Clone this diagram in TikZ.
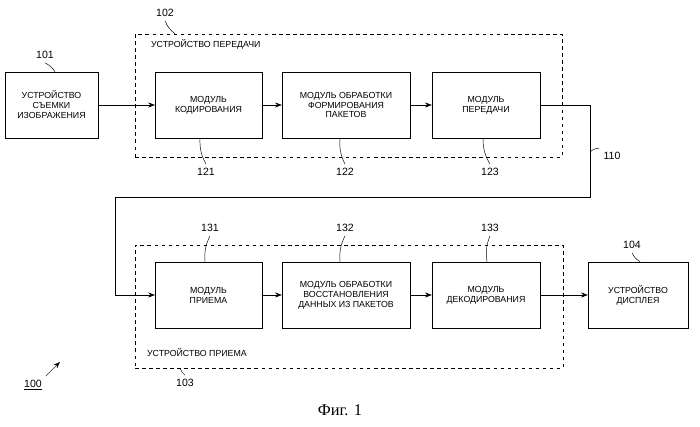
\documentclass[tikz,border=0pt]{standalone}
\usepackage{fontspec}
\setmainfont{Liberation Sans}
\newfontfamily\figfont{Liberation Serif}
\usetikzlibrary{arrows.meta}
\begin{document}
\begin{tikzpicture}[x=0.03cm,y=-0.03cm]
	\tikzstyle{block}=[draw=black, fill=white, minimum width=3.2cm, minimum height=1.98cm, align=center, font=\fontsize{7.5}{8.5}\selectfont, inner sep=1pt]
	\tikzstyle{frame}=[draw=black, dashed]
	\tikzstyle{flow}=[-{Stealth[length=2mm,width=1.5mm]}]
	\tikzstyle{tag}=[font=\fontsize{9}{10}\selectfont]
	\useasboundingbox (0,0) rectangle (700,427);
	% Frames
	\node[frame, minimum width=12.81cm, minimum height=3.69cm] (tx) at (348.5,95.5) {};
	\node[frame, minimum width=12.84cm, minimum height=3.69cm] (rx) at (349,306.5) {};
	\node[anchor=west, font=\fontsize{7.5}{8.5}\selectfont] (txlabel) at (147,44) {УСТРОЙСТВО ПЕРЕДАЧИ};
	\node[anchor=west, font=\fontsize{7.5}{8.5}\selectfont] (rxlabel) at (143,353) {УСТРОЙСТВО ПРИЕМА};
	% Blocks
	\node[block, minimum width=2.79cm] (camera) at (51.5,105) {УСТРОЙСТВО\\СЪЕМКИ\\ИЗОБРАЖЕНИЯ};
	\node[block] (encoder) at (208.5,105) {МОДУЛЬ\\КОДИРОВАНИЯ};
	\node[block, minimum width=3.84cm] (packer) at (346,105) {МОДУЛЬ ОБРАБОТКИ\\ФОРМИРОВАНИЯ\\ПАКЕТОВ};
	\node[block, minimum width=3.24cm] (sender) at (486,105) {МОДУЛЬ\\ПЕРЕДАЧИ};
	\node[block] (receiver) at (208.5,295) {МОДУЛЬ\\ПРИЕМА};
	\node[block, minimum width=3.84cm] (unpacker) at (346,295) {МОДУЛЬ ОБРАБОТКИ\\ВОССТАНОВЛЕНИЯ\\ДАННЫХ ИЗ ПАКЕТОВ};
	\node[block, minimum width=3.24cm] (decoder) at (486,295) {МОДУЛЬ\\ДЕКОДИРОВАНИЯ};
	\node[block, minimum width=3cm] (display) at (638,295) {УСТРОЙСТВО\\ДИСПЛЕЯ};
	% Connectors
	\draw[flow] (camera) -- (encoder);
	\draw[flow] (encoder) -- (packer);
	\draw[flow] (packer) -- (sender);
	\draw[flow] (receiver) -- (unpacker);
	\draw[flow] (unpacker) -- (decoder);
	\draw[flow] (decoder) -- (display);
	\coordinate (bendA) at (590,105);
	\coordinate (bendB) at (590,197);
	\coordinate (bendC) at (115,197);
	\coordinate (bendD) at (115,295);
	\draw[flow] (sender) -- (bendA) -- (bendB) -- (bendC) -- (bendD) -- (receiver);
	% Reference numbers
	\node[tag] (n101) at (45,55) {101};
	\node[tag] (n102) at (165,13) {102};
	\node[tag] (n103) at (185,383) {103};
	\node[tag] (n104) at (632,245) {104};
	\node[tag] (n110) at (612,156) {110};
	\node[tag] (n121) at (206,172) {121};
	\node[tag] (n122) at (345,172) {122};
	\node[tag] (n123) at (490,172) {123};
	\node[tag] (n131) at (210,228) {131};
	\node[tag] (n132) at (345,228) {132};
	\node[tag] (n133) at (490,228) {133};
	\draw (n101.south) to[bend left=15] (camera.north -| 55,0);
	\draw (n102.south) to[bend right=15] (tx.north -| 175,0);
	\draw (n103.north) to[bend left=15] (rx.south -| 180,0);
	\draw (n104.south) to[bend right=15] (display.north -| 640,0);
	\draw (n110.north west) to[bend right=20] (bendA |- 0,152);
	\draw (n121.north) to[bend left=15] (encoder.south -| 200,0);
	\draw (n122.north) to[bend left=15] (packer.south -| 340,0);
	\draw (n123.north) to[bend left=15] (sender.south -| 483,0);
	\draw (n131.south) to[bend right=15] (receiver.north -| 205,0);
	\draw (n132.south) to[bend right=15] (unpacker.north -| 340,0);
	\draw (n133.south) to[bend right=15] (decoder.north -| 487,0);
	\node[tag] (n100) at (33,385) {\underline{100}};
	\draw[flow] (n100.north east) -- ++(14,-14);
	\node[font=\figfont\fontsize{14}{16}\selectfont] (caption) at (340,410) {Фиг. 1};
\end{tikzpicture}
\end{document}
